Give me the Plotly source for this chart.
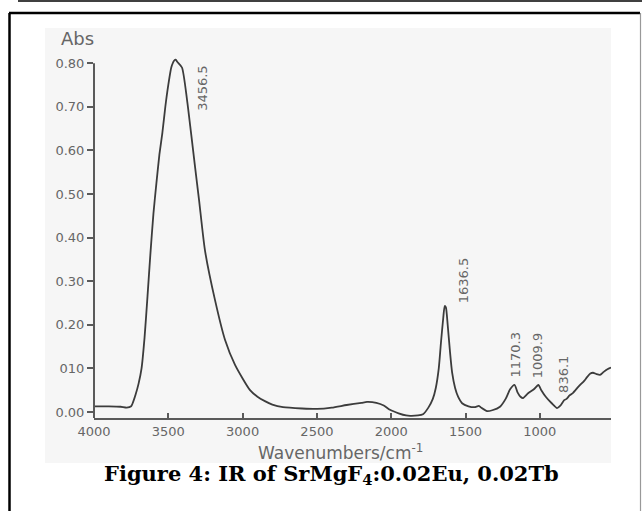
import plotly.graph_objects as go

# ---- data ----
wavenumber = [4000, 3900, 3820, 3780, 3750, 3740, 3720, 3700, 3680, 3660, 3640, 3620,
              3600, 3580, 3560, 3540, 3520, 3500, 3480, 3460, 3450, 3440, 3408, 3374,
              3347, 3320, 3293, 3253, 3186, 3118, 3051, 2950, 2900, 2850, 2800, 2728,
              2600, 2499, 2400, 2300, 2200, 2163, 2100, 2050, 2008, 1950, 1900, 1873,
              1820, 1786, 1750, 1720, 1700, 1680, 1665, 1650, 1640, 1632, 1620, 1605,
              1590, 1570, 1550, 1523, 1480, 1440, 1410, 1395, 1355, 1320, 1268, 1230,
              1200, 1170, 1150, 1130, 1113, 1079, 1040, 1010, 990, 960, 920, 884,
              860, 836, 820, 800, 776, 740, 700, 682, 660, 642, 620, 595, 570, 545, 521]
absorbance = [0.013, 0.013, 0.012, 0.010, 0.013, 0.020, 0.040, 0.065, 0.100, 0.170, 0.265, 0.365,
              0.455, 0.525, 0.590, 0.640, 0.700, 0.750, 0.790, 0.806, 0.808, 0.803, 0.790, 0.716,
              0.640, 0.562, 0.486, 0.370, 0.257, 0.165, 0.108, 0.050, 0.035, 0.025, 0.017, 0.011,
              0.008, 0.007, 0.010, 0.016, 0.021, 0.023, 0.021, 0.015, 0.005, -0.003, -0.008, -0.009,
              -0.008, -0.005, 0.010, 0.030, 0.055, 0.100, 0.160, 0.215, 0.243, 0.240, 0.200, 0.140,
              0.090, 0.055, 0.035, 0.020, 0.013, 0.011, 0.014, 0.010, 0.002, 0.004, 0.012, 0.030,
              0.052, 0.062, 0.045, 0.035, 0.032, 0.043, 0.052, 0.062, 0.050, 0.035, 0.020, 0.009,
              0.015, 0.027, 0.030, 0.038, 0.044, 0.058, 0.072, 0.080, 0.088, 0.090, 0.087, 0.085,
              0.092, 0.098, 0.102]

peak_wn = [3456.5, 1636.5, 1170.3, 1009.9, 836.1]
peak_abs = [0.807, 0.243, 0.062, 0.062, 0.027]
peak_labels = ["3456.5", "1636.5", "1170.3", "1009.9", "836.1"]
peak_xshift = [27, 18, 1, 0, 0]
peak_yshift = [-53, 1, 5, 5, 5]

x_tickvals = [4000, 3500, 3000, 2500, 2000, 1500, 1000]
x_ticktext = ["4000", "3500", "3000", "2500", "2000", "1500", "1000"]
y_tickvals = [0.0, 0.1, 0.2, 0.3, 0.4, 0.5, 0.6, 0.7, 0.8]
y_ticktext = ["0.00", "010", "0.20", "0.30", "0.40", "0.50", "0.60", "0.70", "0.80"]

W, H = 642, 511
axis_color = "#5a5a5a"
text_color = "#666666"
font_family = "DejaVu Sans, Liberation Sans, Arial, sans-serif"

fig = go.Figure()
fig.add_trace(go.Scatter(x=wavenumber, y=absorbance, mode="lines",
                         line=dict(color="#3c3c3c", width=1.8, shape="spline", smoothing=0.6),
                         hoverinfo="skip", showlegend=False))

for wn, a, lab, xs, ys in zip(peak_wn, peak_abs, peak_labels, peak_xshift, peak_yshift):
    fig.add_annotation(x=wn, y=a, text=lab, textangle=-90, showarrow=False,
                       xanchor="center", yanchor="bottom", xshift=xs, yshift=ys,
                       font=dict(family=font_family, size=13, color=text_color))

ymin, ymax = -0.0138, 0.876
PT, PB, PL, PR = 30, 93, 94, 31
plot_w = W - PL - PR
plot_h = H - PT - PB


def px(xp):
    return (xp - PL) / plot_w


def py(yp):
    return (H - PB - yp) / plot_h


fig.update_layout(
    width=W, height=H,
    margin=dict(l=PL, r=PR, t=PT, b=PB),
    paper_bgcolor="white", plot_bgcolor="#f6f6f6",
    font=dict(family=font_family, color=text_color),
    xaxis=dict(range=[4000, 521], tickvals=x_tickvals, ticktext=x_ticktext,
               ticks="inside", ticklen=5, tickwidth=1.5, tickcolor=axis_color,
               showline=True, linecolor=axis_color, linewidth=2,
               showgrid=False, zeroline=False,
               tickfont=dict(size=13, color=text_color)),
    yaxis=dict(range=[ymin, ymax], tickvals=y_tickvals, ticktext=y_ticktext,
               ticks="outside", ticklen=6, tickwidth=1.5, tickcolor=axis_color,
               showline=False, showgrid=False, zeroline=False,
               tickfont=dict(size=13, color=text_color)),
    shapes=[
        dict(type="rect", xref="paper", yref="paper", layer="below",
             x0=px(45), x1=px(611), y0=py(463), y1=py(28),
             fillcolor="#f6f6f6", line=dict(width=0)),
        dict(type="line", xref="paper", yref="y", x0=0, x1=0, y0=ymin, y1=0.8,
             line=dict(color=axis_color, width=2)),
        dict(type="line", xref="paper", yref="paper",
             x0=px(18), x1=px(642), y0=py(1), y1=py(1),
             line=dict(color="black", width=1.5)),
        dict(type="line", xref="paper", yref="paper",
             x0=px(9), x1=px(640), y0=py(13), y1=py(13),
             line=dict(color="black", width=2.5)),
        dict(type="line", xref="paper", yref="paper",
             x0=px(9.5), x1=px(9.5), y0=py(13), y1=py(515),
             line=dict(color="black", width=2.5)),
        dict(type="line", xref="paper", yref="paper",
             x0=px(640.5), x1=px(640.5), y0=py(13), y1=py(515),
             line=dict(color="#999999", width=1.2)),
    ],
)

fig.add_annotation(xref="paper", yref="paper", x=px(77), y=py(38), text="Abs",
                   showarrow=False, xanchor="center", yanchor="middle",
                   font=dict(family=font_family, size=18, color=text_color))
fig.add_annotation(xref="paper", yref="paper", x=px(340), y=py(452),
                   text="Wavenumbers/cm<sup>-1</sup>",
                   showarrow=False, xanchor="center", yanchor="middle",
                   font=dict(family=font_family, size=17, color=text_color))
fig.add_annotation(xref="paper", yref="paper", x=px(331), y=py(474),
                   text="<b>Figure 4: IR of SrMgF<sub>4</sub>:0.02Eu, 0.02Tb</b>",
                   showarrow=False, xanchor="center", yanchor="middle",
                   font=dict(family="DejaVu Serif, Liberation Serif, serif", size=21, color="black"))

fig.write_html("out.html")
